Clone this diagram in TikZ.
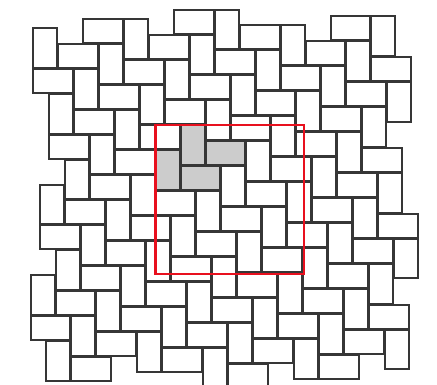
\documentclass[tikz,border=0pt]{standalone}
\usepackage{xcolor}
\usepackage{tikz}

\definecolor{tileline}{HTML}{363636}
\definecolor{tilegray}{HTML}{CCCCCC}
\definecolor{markred}{HTML}{E8101E}

\begin{document}
\begin{tikzpicture}[
    x=1pt, y=-1pt,
    tile/.style={draw=tileline, line width=2pt, fill=white, line join=miter},
    graytile/.style={tile, fill=tilegray},
    frame/.style={draw=markred, line width=2.8pt},
  ]

  \fill[white] (0,0) rectangle (437,385);
  \useasboundingbox (0,0) rectangle (437,385);
  \clip (0,0) rectangle (437,385);

  % standing bricks
  \foreach \j/\lo/\hi in {-3/2/2, -2/0/3, -1/-3/4, 0/-6/4, 1/-8/5, 2/-7/3, 3/-7/0, 4/-6/-2, 5/-5/-5}
    \foreach \i in {\lo,...,\hi}
      \path[tile] ({180.5+25*\i+65.8*\j}, {125.5-25*\i+15.8*\j}) rectangle ++(24, 39.8);

  % lying bricks
  \foreach \j/\lo/\hi in {-2/1/3, -1/-1/4, 0/-4/4, 1/-7/5, 2/-8/4, 3/-7/1, 4/-7/-1, 5/-6/-4}
    \foreach \i in {\lo,...,\hi}
      \path[tile] ({139.7+25*\i+65.8*\j}, {125.5-25*\i+15.8*\j}) rectangle ++(39.8, 24);

  % the four grey bricks
  \foreach \i/\j in {0/0, -1/0}
    \path[graytile] ({180.5+25*\i+65.8*\j}, {125.5-25*\i+15.8*\j}) rectangle ++(24, 39.8);
  \foreach \i/\j in {0/1, -1/1}
    \path[graytile] ({139.7+25*\i+65.8*\j}, {125.5-25*\i+15.8*\j}) rectangle ++(39.8, 24);

  \draw[frame] (155.3,125) rectangle (304,274);

\end{tikzpicture}
\end{document}
